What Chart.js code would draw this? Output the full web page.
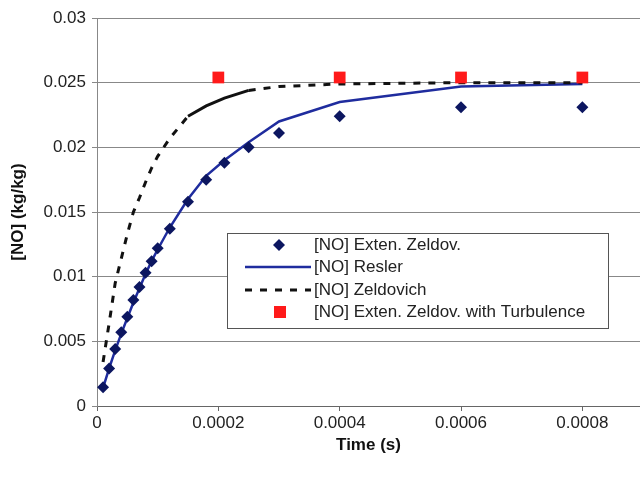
<!DOCTYPE html>
<html>
<head>
<meta charset="utf-8">
<title>[NO] vs Time</title>
<script src="https://cdn.jsdelivr.net/npm/chart.js@4.4.0/dist/chart.umd.min.js"></script>
<style>
  html, body { margin: 0; padding: 0; background: #fff; }
  #chart { display: block; }
</style>
</head>
<body>
<canvas id="chart" width="640" height="477"></canvas>
<script>
// Time points (s) shared by the three model series
const timeS = [0.00001, 0.00002, 0.00003, 0.00004, 0.00005, 0.00006, 0.00007, 0.00008, 0.00009, 0.0001,
  0.00012, 0.00015, 0.00018, 0.00021, 0.00025, 0.0003, 0.0004, 0.0006, 0.0008];

// [NO] (kg/kg)
const extenZeldov = [0.00145, 0.0029, 0.0044, 0.0057, 0.0069, 0.0082, 0.0092, 0.0103, 0.0112, 0.0122,
  0.0137, 0.0158, 0.0175, 0.0188, 0.0200, 0.0211, 0.0224, 0.0231, 0.0231];
const resler = [0.0014, 0.0029, 0.0043, 0.0056, 0.0068, 0.0080, 0.0091, 0.0102, 0.0112, 0.0121,
  0.0138, 0.0160, 0.0178, 0.0190, 0.0204, 0.0220, 0.0235, 0.0247, 0.0249];
const zeldovich = [0.0034, 0.0064, 0.0095, 0.0114, 0.0133, 0.0150, 0.0161, 0.0173, 0.0184, 0.0193,
  0.0207, 0.0224, 0.0232, 0.0238, 0.0244, 0.0247, 0.0249, 0.0250, 0.0250];

// Turbulence case only has four points
const turbTime = [0.0002, 0.0004, 0.0006, 0.0008];
const turbNO = [0.0254, 0.0254, 0.0254, 0.0254];

const seriesNames = ['[NO] Exten. Zeldov.', '[NO] Resler', '[NO] Zeldovich', '[NO] Exten. Zeldov. with Turbulence'];

const xTicks = [0, 0.0002, 0.0004, 0.0006, 0.0008];
const xTickLabels = ['0', '0.0002', '0.0004', '0.0006', '0.0008'];
const yTicks = [0, 0.005, 0.01, 0.015, 0.02, 0.025, 0.03];
const yTickLabels = ['0', '0.005', '0.01', '0.015', '0.02', '0.025', '0.03'];

const FONT = '"Liberation Sans", Arial, sans-serif';
const DIAMOND = '#0c1660';
const BLUE = '#1f2c9e';
const RED = '#ff1a1a';

function pairs(xs, ys) {
  return xs.map(function (x, i) { return { x: x, y: ys[i] }; });
}

// Legend box drawn inside the plot, like the original
const legendBox = {
  id: 'legendBox',
  afterDatasetsDraw(chart) {
    const ctx = chart.ctx;
    const left = 227, top = 233, width = 381, height = 95;
    const rows = [245, 267, 290, 312];
    ctx.save();
    ctx.fillStyle = '#fff';
    ctx.fillRect(left, top, width, height);
    ctx.strokeStyle = '#555';
    ctx.lineWidth = 1;
    ctx.strokeRect(left + 0.5, top + 0.5, width, height);

    // diamond
    ctx.fillStyle = DIAMOND;
    ctx.beginPath();
    ctx.moveTo(279, rows[0] - 6);
    ctx.lineTo(285, rows[0]);
    ctx.lineTo(279, rows[0] + 6);
    ctx.lineTo(273, rows[0]);
    ctx.closePath();
    ctx.fill();

    // solid blue line
    ctx.strokeStyle = BLUE;
    ctx.lineWidth = 2.5;
    ctx.beginPath();
    ctx.moveTo(245, rows[1]);
    ctx.lineTo(311, rows[1]);
    ctx.stroke();

    // dashed black line
    ctx.strokeStyle = '#111';
    ctx.lineWidth = 3;
    ctx.setLineDash([7, 8]);
    ctx.beginPath();
    ctx.moveTo(245, rows[2]);
    ctx.lineTo(311, rows[2]);
    ctx.stroke();
    ctx.setLineDash([]);

    // red square
    ctx.fillStyle = RED;
    ctx.fillRect(274, rows[3] - 6, 12, 12);

    ctx.fillStyle = '#222';
    ctx.font = '17px ' + FONT;
    ctx.textBaseline = 'middle';
    ctx.textAlign = 'left';
    seriesNames.forEach(function (name, i) {
      ctx.fillText(name, 314, rows[i]);
    });
    ctx.restore();
  }
};

const ctx = document.getElementById('chart').getContext('2d');
new Chart(ctx, {
  type: 'scatter',
  data: {
    datasets: [{
      label: seriesNames[1],
      data: pairs(timeS, resler),
      showLine: true,
      borderColor: BLUE,
      borderWidth: 2.5,
      pointRadius: 0,
      order: 3
    }, {
      label: seriesNames[2],
      data: pairs(timeS, zeldovich),
      showLine: true,
      borderColor: '#111',
      borderWidth: 3,
      borderDash: [7, 8],
      pointRadius: 0,
      segment: {
        // the stretch between 1.5e-4 and 2.5e-4 prints as a near solid line
        borderDash: function (c) {
          if (c.p0.parsed.x >= 0.000149 && c.p1.parsed.x <= 0.000251) return [];
          return undefined;
        }
      },
      order: 2
    }, {
      label: seriesNames[0],
      data: pairs(timeS, extenZeldov),
      pointStyle: 'rectRot',
      pointRadius: 6,
      backgroundColor: DIAMOND,
      borderColor: DIAMOND,
      borderWidth: 0,
      order: 1
    }, {
      label: seriesNames[3],
      data: pairs(turbTime, turbNO),
      pointStyle: 'rect',
      pointRadius: 8.3,
      backgroundColor: RED,
      borderColor: RED,
      borderWidth: 0,
      order: 0
    }]
  },
  options: {
    responsive: false,
    animation: false,
    devicePixelRatio: 1,
    layout: {
      autoPadding: false,
      padding: { top: 18, right: 0, left: 0, bottom: 0 }
    },
    plugins: {
      legend: { display: false },
      tooltip: { enabled: false }
    },
    scales: {
      x: {
        type: 'linear',
        min: 0,
        max: 0.000895,
        afterBuildTicks: function (axis) {
          axis.ticks = xTicks.map(function (v) { return { value: v }; });
        },
        afterFit: function (axis) {
          axis.height = 71;
          // plot runs right up to the edge of the picture
          axis.paddingRight = 0;
        },
        grid: {
          drawOnChartArea: false,
          drawTicks: true,
          tickLength: 5,
          color: '#666'
        },
        border: { display: true, color: '#666', width: 1 },
        ticks: {
          padding: 2,
          maxRotation: 0,
          color: '#222',
          font: { family: FONT, size: 17 },
          callback: function (v, i) { return xTickLabels[i]; }
        },
        title: {
          display: true,
          text: 'Time (s)',
          color: '#111',
          font: { family: FONT, size: 17, weight: 'bold' },
          padding: { top: 0, bottom: 21 }
        }
      },
      y: {
        type: 'linear',
        min: 0,
        max: 0.03,
        afterBuildTicks: function (axis) {
          axis.ticks = yTicks.map(function (v) { return { value: v }; });
        },
        afterFit: function (axis) { axis.width = 97; },
        grid: {
          drawOnChartArea: true,
          drawTicks: true,
          tickLength: 5,
          color: '#888'
        },
        border: { display: true, color: '#888', width: 1 },
        ticks: {
          padding: 6,
          color: '#222',
          font: { family: FONT, size: 17 },
          callback: function (v, i) { return yTickLabels[i]; }
        },
        title: {
          display: true,
          text: '[NO] (kg/kg)',
          color: '#111',
          font: { family: FONT, size: 17, weight: 'bold' },
          padding: { top: 8, bottom: 8 }
        }
      }
    }
  },
  plugins: [legendBox]
});
</script>
</body>
</html>
